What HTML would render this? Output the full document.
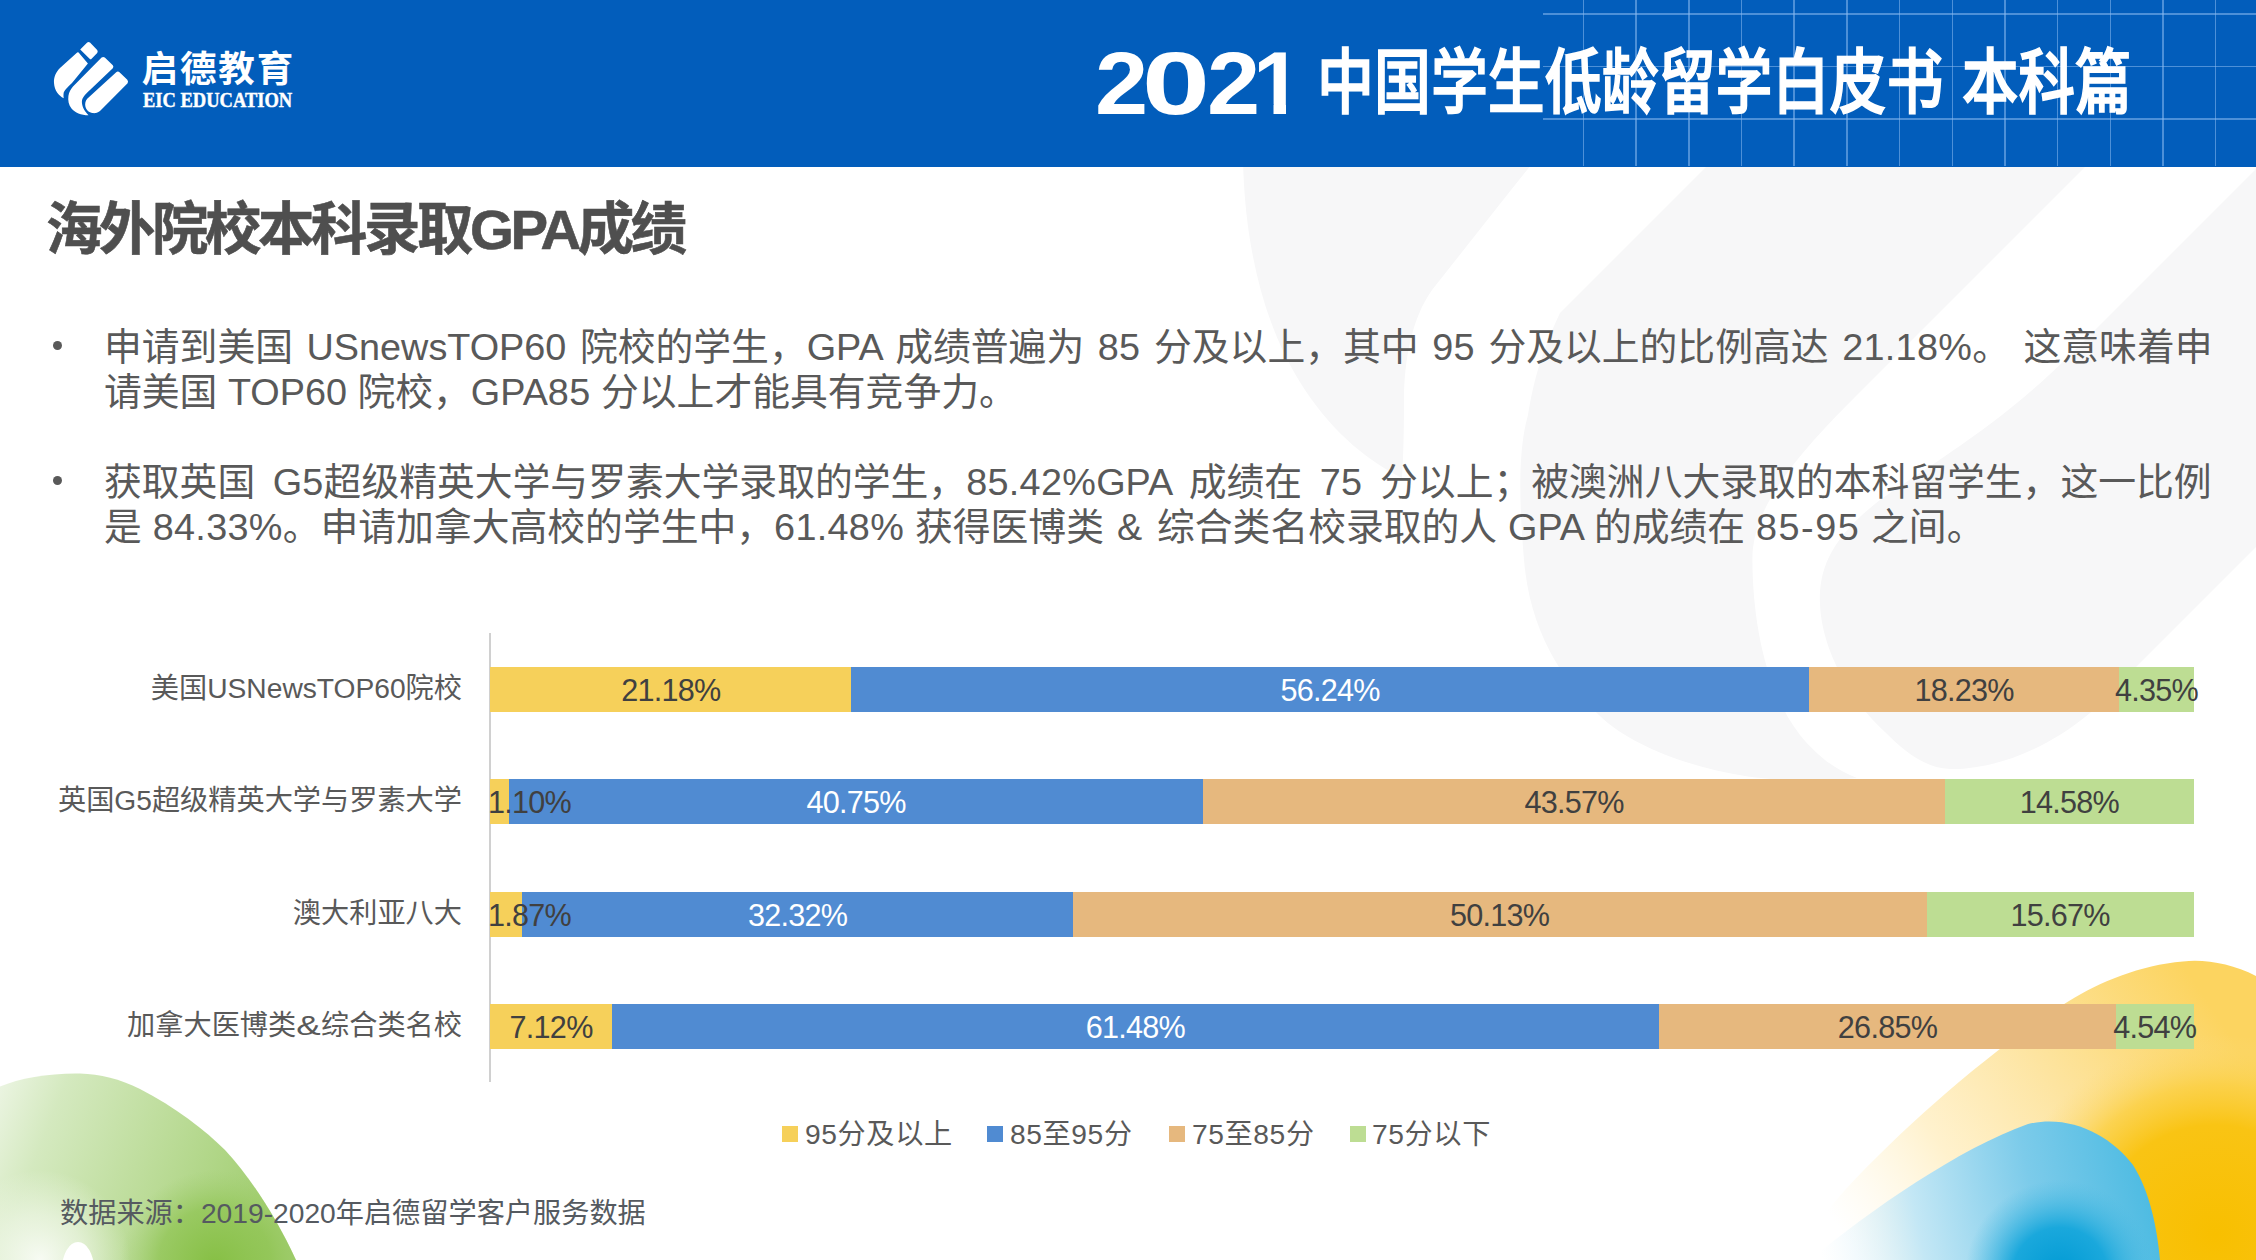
<!DOCTYPE html>
<html lang="zh-CN">
<head>
<meta charset="utf-8">
<title>海外院校本科录取GPA成绩</title>
<style>
*{margin:0;padding:0;box-sizing:border-box}
html,body{width:2256px;height:1260px;overflow:hidden;background:#fff}
body{position:relative;font-family:"Liberation Sans","Noto Sans CJK SC",sans-serif;color:#595959}
.abs{position:absolute}
#hdr{left:0;top:0;width:2256px;height:166.5px;background:#025dbb;overflow:hidden}
.gv{position:absolute;top:0;width:1.5px;height:166px;background:rgba(140,185,240,0.55)}
.gh{position:absolute;left:1543px;width:713px;height:1.5px;background:rgba(140,185,240,0.55)}
#logotxt{left:141.5px;top:42.5px;font-family:"Liberation Sans","Noto Sans CJK SC",sans-serif;font-weight:700;font-size:36.5px;line-height:54px;color:#fff;white-space:nowrap;letter-spacing:1.9px}
#logoen{left:143px;top:87px;font-family:"Liberation Serif",serif;font-weight:700;font-size:21.5px;line-height:26px;color:#fff;white-space:nowrap;transform:scaleX(0.86);transform-origin:0 0;-webkit-text-stroke:0.45px #fff}
#htitle{left:0;top:0;width:2256px;height:166px;white-space:nowrap;color:#fff}
.hd{position:absolute;top:34px;transform-origin:0 0;font-family:"Liberation Sans",sans-serif;font-weight:700;font-size:88.5px;line-height:100px}
#hcn{position:absolute;left:1316.5px;top:33px;font-family:"Liberation Sans","Noto Sans CJK SC",sans-serif;font-weight:500;-webkit-text-stroke:1.6px #fff;font-size:71px;line-height:100px;transform:scaleX(0.802);transform-origin:0 0}
#hcn2{position:absolute;left:1962px;top:33px;font-family:"Liberation Sans","Noto Sans CJK SC",sans-serif;font-weight:500;-webkit-text-stroke:1.6px #fff;font-size:71px;line-height:100px;transform:scaleX(0.796);transform-origin:0 0}
#title{left:46px;top:191.5px;-webkit-text-stroke:0.6px #4f4f4f;font-size:56.4px;line-height:76px;font-weight:700;color:#4f4f4f;white-space:nowrap;letter-spacing:-3.4px}
.ln{position:absolute;left:104px;font-size:37.8px;line-height:45.1px;color:#595959;white-space:nowrap}
.la{letter-spacing:0.3px}
.amp{padding-left:2px;letter-spacing:4px}
.amp2{display:inline-block;transform:scaleX(1.3);margin:0 3px 0 3px}
.dot{position:absolute;width:9.4px;height:9.4px;border-radius:50%;background:#595959}
.cat{position:absolute;right:1794px;font-size:28.2px;line-height:44.5px;color:#595959;white-space:nowrap}
.seg{position:absolute;height:44.5px}
.lab{position:absolute;width:200px;text-align:center;font-size:30.6px;line-height:46px;letter-spacing:-0.75px;color:#404040;white-space:nowrap}
.lab.w{color:#fff}
.y{background:#f6d05a}.b{background:#508bd2}.o{background:#e6b87e}.g{background:#bddd93}
.leg{position:absolute;top:1113.5px;font-size:28.2px;line-height:40px;letter-spacing:0.6px;color:#595959;white-space:nowrap}
.sq{position:absolute;top:1126.3px;width:16px;height:15.5px}
#src{left:60px;top:1193px;font-size:28.2px;line-height:40px;color:#555a60;white-space:nowrap}
</style>
</head>
<body>
<!-- background watermark -->
<svg class="abs" style="left:0;top:0" width="2256" height="1260" viewBox="0 0 2256 1260">
 <g fill="#f7f7f8">
  <path d="M 1243,160 L 1535,160 L 1511,190 L 1432,290 C 1412,318 1404,360 1404,400 C 1404,440 1403,462 1402,478 C 1370,462 1335,435 1305,390 C 1265,330 1245,250 1243,160 Z"/>
  <path d="M 1713,160 L 2092,160 L 1860,392 C 1800,452 1752,505 1752.4,560 C 1752.6,620 1765,690 1800,735 C 1818,757 1836,770 1857,778 C 1820,782 1780,781 1748,776.5 C 1690,768 1630,745 1600,716 C 1560,678 1530,630 1524,560 C 1519,500 1518,450 1528,415 C 1533,385 1540,355 1560,313 Z"/>
  <path d="M 2265,160 L 2070,355 C 2000,425 1930,465 1880,500 C 1835,535 1818,565 1820,605 C 1822,650 1850,700 1885,732 C 1905,752 1925,768 1950,769 C 1985,770 2040,755 2090,713 L 2256,547 L 2256,160 Z"/>
 </g>
</svg>
<!-- bottom-left green ring -->
<svg class="abs" style="left:0;top:1060px" width="320" height="200" viewBox="0 0 320 200">
 <defs>
  <linearGradient id="gg" x1="0" y1="0" x2="1" y2="0.25">
   <stop offset="0" stop-color="#eef6e6"/>
   <stop offset="0.22" stop-color="#d4e9bf"/>
   <stop offset="0.55" stop-color="#bedd9c"/>
   <stop offset="0.85" stop-color="#a9d27c"/>
   <stop offset="1" stop-color="#9fcc6c"/>
  </linearGradient>
  <radialGradient id="gd" cx="215" cy="205" r="95" gradientUnits="userSpaceOnUse">
   <stop offset="0" stop-color="#86bf44" stop-opacity="1"/>
   <stop offset="0.6" stop-color="#8fc452" stop-opacity="0.7"/>
   <stop offset="1" stop-color="#9fcc6c" stop-opacity="0"/>
  </radialGradient>
  <radialGradient id="gw" cx="40" cy="200" r="90" gradientUnits="userSpaceOnUse">
   <stop offset="0" stop-color="#ffffff" stop-opacity="0.85"/>
   <stop offset="0.5" stop-color="#f4f9ef" stop-opacity="0.6"/>
   <stop offset="1" stop-color="#f4f9ef" stop-opacity="0"/>
  </radialGradient>
  <clipPath id="gc"><path d="M0,26.5 C20,18 50,13 80,13.5 C100,14 120,19 140,29 C175,47 205,70 225,90 C250,117 275,155 296,200 L0,200 Z"/></clipPath>
 </defs>
 <g clip-path="url(#gc)">
  <rect x="0" y="0" width="320" height="200" fill="url(#gg)"/>
  <rect x="0" y="0" width="320" height="200" fill="url(#gd)"/>
  <rect x="0" y="0" width="320" height="200" fill="url(#gw)"/>
  <ellipse cx="78" cy="209" rx="16" ry="27" fill="#fff"/>
 </g>
</svg>
<!-- bottom-right yellow / blue -->
<svg class="abs" style="left:1750px;top:940px" width="506" height="320" viewBox="1750 940 506 320">
 <defs>
  <linearGradient id="yg" gradientUnits="userSpaceOnUse" x1="1840" y1="1230" x2="2200" y2="990">
   <stop offset="0" stop-color="#fff6dc" stop-opacity="0"/>
   <stop offset="0.3" stop-color="#fff0c8" stop-opacity="0.9"/>
   <stop offset="0.6" stop-color="#fde4a0"/>
   <stop offset="1" stop-color="#fcd460"/>
  </linearGradient>
  <radialGradient id="yc" gradientUnits="userSpaceOnUse" cx="2215" cy="1235" r="200" gradientTransform="translate(2215 1235) scale(1.05 1) translate(-2215 -1235)">
   <stop offset="0" stop-color="#f8bf00"/>
   <stop offset="0.55" stop-color="#f9c414"/>
   <stop offset="0.75" stop-color="#fbcf40" stop-opacity="0.8"/>
   <stop offset="1" stop-color="#fcdc7c" stop-opacity="0"/>
  </radialGradient>
  <linearGradient id="bg" gradientUnits="userSpaceOnUse" x1="1820" y1="1250" x2="2150" y2="1180">
   <stop offset="0" stop-color="#e6f5fb" stop-opacity="0"/>
   <stop offset="0.3" stop-color="#c3e7f5"/>
   <stop offset="0.65" stop-color="#7ccbea"/>
   <stop offset="1" stop-color="#4dbbe2"/>
  </linearGradient>
  <radialGradient id="bc" gradientUnits="userSpaceOnUse" cx="2060" cy="1275" r="95">
   <stop offset="0" stop-color="#009ad4"/>
   <stop offset="0.5" stop-color="#1aa8dc"/>
   <stop offset="1" stop-color="#4dbbe2" stop-opacity="0"/>
  </radialGradient>
 </defs>
 <path d="M 2256,976 C 2232,964 2206,959 2183,961.5 C 2140,965 2100,982 2069,1001 C 2000,1043 1910,1120 1845,1190 L 1785,1260 L 2256,1260 Z" fill="url(#yg)"/>
 <path d="M 2256,976 C 2232,964 2206,959 2183,961.5 C 2140,965 2100,982 2069,1001 C 2000,1043 1910,1120 1845,1190 L 1785,1260 L 2256,1260 Z" fill="url(#yc)"/>
 <path d="M 1810,1260 C 1870,1210 1960,1148 2028,1124 C 2070,1114 2110,1135 2133,1165 C 2150,1192 2157,1228 2160,1260 Z" fill="url(#bg)"/>
 <path d="M 1810,1260 C 1870,1210 1960,1148 2028,1124 C 2070,1114 2110,1135 2133,1165 C 2150,1192 2157,1228 2160,1260 Z" fill="url(#bc)"/>
</svg>
<div id="hdr" class="abs"><div class="gv" style="left:1582.5px"></div><div class="gv" style="left:1635.2px"></div><div class="gv" style="left:1688.0px"></div><div class="gv" style="left:1740.7px"></div><div class="gv" style="left:1793.3px"></div><div class="gv" style="left:1846.0px"></div><div class="gv" style="left:1898.8px"></div><div class="gv" style="left:1951.5px"></div><div class="gv" style="left:2004.2px"></div><div class="gv" style="left:2056.8px"></div><div class="gv" style="left:2109.6px"></div><div class="gv" style="left:2162.2px"></div><div class="gv" style="left:2214.9px"></div><div class="gh" style="top:13.4px"></div><div class="gh" style="top:65.5px"></div><div class="gh" style="top:118.0px"></div>
<svg class="abs" style="left:0;top:0" width="140" height="130" viewBox="0 0 140 130">
 <g fill="#fff">
  <path d="M 80.2,49.6 L 87.2,42.6 Q 88.6,41.4 90,42.6 L 97.2,50 Q 98.2,51.6 97.2,53 L 91.6,58.8 Q 90.6,59.8 89.6,58.8 Z"/>
  <path d="M 78.6,52.5 L 87.9,63.6 L 72,83 C 67.5,87.5 64,90.5 63.6,93.5 C 63.4,95.5 63.5,97 63.8,98.3 C 58.5,95.5 54.5,90.5 54,83 C 53.6,77 56,72 60,68 L 76.6,52.9 Q 77.6,52 78.6,52.5 Z"/>
  <path d="M 101.6,57.5 Q 103.2,56.3 104.8,57.5 L 112.8,65.3 Q 114,66.8 112.8,68.3 L 90.5,89.5 C 85,94.5 82,98 81.9,101.5 C 81.8,105.5 83.5,110 88.5,115.3 C 81,115.3 75,112.5 71.5,108.5 C 68.7,105 67.8,100.5 68.4,96 C 69,92 70.5,89.5 73,86.5 Z"/>
  <path d="M 116.2,72.3 Q 117.8,70.8 119.5,72.2 L 127.3,79.8 Q 128.6,81.4 127.6,83.2 L 100,111 C 97.3,113 95,113.4 92.6,113.1 C 89,112.6 86.2,110 85.4,106.5 C 84.8,103.5 85.3,101 87.2,98.7 Z"/>
 </g>
</svg>
<div id="logotxt" class="abs">启德教育</div>
<div id="logoen" class="abs">EIC EDUCATION</div>
<div id="htitle" class="abs"><span class="hd" style="left:1094.5px;transform:scaleX(1.08)">2</span><span class="hd" style="left:1142px;transform:scaleX(1.38)">0</span><span class="hd" style="left:1207px;transform:scaleX(1.08)">2</span><span class="hd" style="left:1253px;clip-path:polygon(0 0,60px 0,60px 70.5px,33px 70.5px,33px 100px,20.5px 100px,20.5px 70.5px,0 70.5px)">1</span><span id="hcn">中国学生低龄留学白皮书</span><span id="hcn2">本科篇</span></div>
</div>

<div id="title" class="abs">海外院校本科录取GPA成绩</div>

<div class="dot" style="left:52.6px;top:340.6px"></div>
<div class="ln" id="l1" style="top:324.5px;word-spacing:3.07px">申请到美国 USnewsTOP60 院校的学生，GPA 成绩普遍为 <span class="la">85</span> 分及以上，其中 <span class="la">95</span> 分及以上的比例高达 <span class="la">21.18%</span>。 这意味着申</div>
<div class="ln" id="l2" style="top:369.6px">请美国 TOP60 院校，GPA<span class="la">85</span> 分以上才能具有竞争力。</div>

<div class="dot" style="left:52.6px;top:475.9px"></div>
<div class="ln" id="l3" style="top:460px;word-spacing:7.15px">获取英国 G<span class="la">5</span>超级精英大学与罗素大学录取的学生，<span class="la">85.42%</span>GPA 成绩在 <span class="la">75</span> 分以上；被澳洲八大录取的本科留学生，这一比例</div>
<div class="ln" id="l4" style="top:505.1px;word-spacing:0.4px">是 <span class="la">84.33%</span>。申请加拿大高校的学生中，<span class="la">61.48%</span> 获得医博类 <span class="amp">&amp;</span> 综合类名校录取的人 GPA 的成绩在 <span class="la" style="letter-spacing:1.5px">85-95</span> 之间。</div>

<!-- chart -->
<div class="abs" style="left:489px;top:633px;width:1.6px;height:449px;background:#d0d0d0"></div>
<div class="cat" style="top:666px">美国USNewsTOP60院校</div>
<div class="cat" style="top:778px">英国G5超级精英大学与罗素大学</div>
<div class="cat" style="top:891px">澳大利亚八大</div>
<div class="cat" style="top:1003px">加拿大医博类<span class="amp2">&amp;</span>综合类名校</div>
<div class="seg y" style="left:490px;top:667px;width:361px"></div>
<div class="seg b" style="left:851px;top:667px;width:958px"></div>
<div class="seg o" style="left:1809px;top:667px;width:310px"></div>
<div class="seg g" style="left:2119px;top:667px;width:75px"></div>
<div class="lab" style="left:570.8px;top:667px">21.18%</div>
<div class="lab w" style="left:1230.1px;top:667px">56.24%</div>
<div class="lab" style="left:1864.2px;top:667px">18.23%</div>
<div class="lab" style="left:2056.5px;top:667px">4.35%</div>
<div class="seg y" style="left:490px;top:779px;width:19px"></div>
<div class="seg b" style="left:509px;top:779px;width:694px"></div>
<div class="seg o" style="left:1203px;top:779px;width:742px"></div>
<div class="seg g" style="left:1945px;top:779px;width:249px"></div>
<div class="lab" style="left:488px;top:779px;text-align:left">1.10%</div>
<div class="lab w" style="left:756.2px;top:779px">40.75%</div>
<div class="lab" style="left:1474.2px;top:779px">43.57%</div>
<div class="lab" style="left:1969.4px;top:779px">14.58%</div>
<div class="seg y" style="left:490px;top:892px;width:32px"></div>
<div class="seg b" style="left:522px;top:892px;width:551px"></div>
<div class="seg o" style="left:1073px;top:892px;width:854px"></div>
<div class="seg g" style="left:1927px;top:892px;width:267px"></div>
<div class="lab" style="left:488px;top:892px;text-align:left">1.87%</div>
<div class="lab w" style="left:697.6px;top:892px">32.32%</div>
<div class="lab" style="left:1399.7px;top:892px">50.13%</div>
<div class="lab" style="left:1960.1px;top:892px">15.67%</div>
<div class="seg y" style="left:490px;top:1004px;width:122px"></div>
<div class="seg b" style="left:612px;top:1004px;width:1047px"></div>
<div class="seg o" style="left:1659px;top:1004px;width:457px"></div>
<div class="seg g" style="left:2116px;top:1004px;width:78px"></div>
<div class="lab" style="left:451.1px;top:1004px">7.12%</div>
<div class="lab w" style="left:1035.3px;top:1004px">61.48%</div>
<div class="lab" style="left:1787.5px;top:1004px">26.85%</div>
<div class="lab" style="left:2054.8px;top:1004px">4.54%</div>

<!-- legend -->
<div class="sq y" style="left:781.5px"></div><div class="leg" style="left:805px">95分及以上</div>
<div class="sq b" style="left:986.5px"></div><div class="leg" style="left:1010px">85至95分</div>
<div class="sq o" style="left:1168.5px"></div><div class="leg" style="left:1192px">75至85分</div>
<div class="sq g" style="left:1350px"></div><div class="leg" style="left:1372px">75分以下</div>

<div id="src" class="abs">数据来源：2019-2020年启德留学客户服务数据</div>

</body>
</html>
